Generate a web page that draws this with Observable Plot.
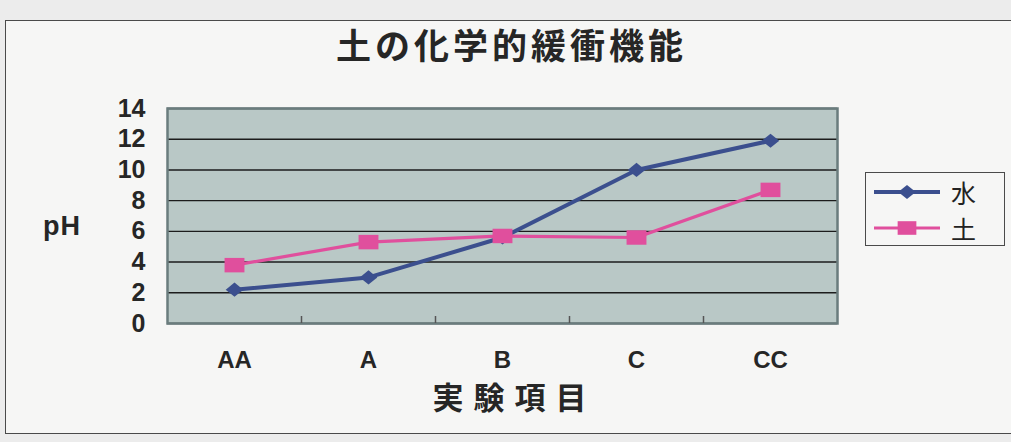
<!DOCTYPE html>
<html>
<head>
<meta charset="utf-8">
<script src="https://cdn.jsdelivr.net/npm/d3@7"></script>
<script src="https://cdn.jsdelivr.net/npm/@observablehq/plot@0.6"></script>
<style>
  html, body { margin: 0; padding: 0; background: #e9e9e9; }
  #wrap { position: relative; width: 1011px; height: 442px; overflow: hidden; background: #ececec; }
  #frame { position: absolute; left: 5px; top: 20px; width: 1020px; height: 414px; border: 1.5px solid #4a4a4a; background: #f6f6f5; box-sizing: border-box; }
  #title { position: absolute; left: 0; top: 24px; width: 1011px; text-align: center; font-family: "Noto Sans CJK JP", sans-serif; font-weight: bold; font-size: 35px; letter-spacing: 4px; color: #262626; line-height: 40px; padding-left: 12px; box-sizing: border-box; }
  #ylabel { position: absolute; left: 43px; top: 211px; font-family: "Liberation Sans", Arial, sans-serif; font-weight: bold; font-size: 27px; letter-spacing: 1px; color: #262626; }
  #xlabel { position: absolute; left: 0; top: 379px; width: 1011px; padding-left: 18px; box-sizing: border-box; text-align: center; font-family: "Noto Sans CJK JP", sans-serif; font-weight: bold; font-size: 31px; letter-spacing: 10px; color: #262626; line-height: 34px; }
  #chart { position: absolute; left: 0; top: 88px; }
  #legend { position: absolute; left: 865px; top: 172px; width: 140px; height: 74px; border: 1.5px solid #4a4a4a; box-sizing: border-box; background: #f6f6f5; }
  .entry { position: absolute; left: 6px; height: 34px; display: flex; align-items: center; }
  .entry span { font-family: "Noto Sans CJK JP", sans-serif; font-size: 25px; color: #222; margin-left: 9px; line-height: 30px; }
</style>
</head>
<body>
<div id="wrap">
  <div id="frame"></div>
  <div id="title"></div>
  <div id="ylabel"></div>
  <div id="chart"></div>
  <div id="xlabel"></div>
  <div id="legend"></div>
</div>
<script>
// ---- data ----
const chartTitle = "土の化学的緩衝機能";
const xTitle = "実験項目";
const yTitle = "pH";
const categories = ["AA", "A", "B", "C", "CC"];
const seriesNames = ["水", "土"];
const water = [2.2, 3.0, 5.6, 10.0, 11.9];
const soil = [3.8, 5.3, 5.7, 5.6, 8.7];
const yTicks = [0, 2, 4, 6, 8, 10, 12, 14];
const seriesColors = ["#3b4f8e", "#e04f9d"];

// ---- derived tables ----
const rowsWater = categories.map((c, i) => ({series: seriesNames[0], i, v: water[i]}));
const rowsSoil = categories.map((c, i) => ({series: seriesNames[1], i, v: soil[i]}));
const indices = categories.map((c, i) => i);
const boundaries = indices.slice(1).map(i => i - 0.5);

// custom marker shapes (scan is slightly wide)
const diamondSym = {draw(ctx, size) { const s = Math.sqrt(size); ctx.moveTo(-0.62 * s, 0); ctx.lineTo(0, -0.5 * s); ctx.lineTo(0.62 * s, 0); ctx.lineTo(0, 0.5 * s); ctx.closePath(); }};
const rectSym = {draw(ctx, size) { const s = Math.sqrt(size); ctx.rect(-0.66 * s, -0.48 * s, 1.32 * s, 0.96 * s); }};

document.getElementById("title").textContent = chartTitle;
document.getElementById("xlabel").textContent = xTitle;
document.getElementById("ylabel").textContent = yTitle;

const chart = Plot.plot({
  width: 1011,
  height: 290,
  marginLeft: 167,
  marginRight: 174,
  marginTop: 20,
  marginBottom: 55,
  style: {background: "transparent", color: "#262626", fontFamily: "'Liberation Sans', Arial, sans-serif", overflow: "visible"},
  x: {domain: [-0.5, categories.length - 0.5]},
  y: {domain: [0, 14]},
  color: {domain: seriesNames, range: seriesColors},
  symbol: {domain: seriesNames, range: [diamondSym, rectSym]},
  marks: [
    Plot.frame({fill: "#b9c8c6", stroke: "none"}),
    Plot.gridY(yTicks, {stroke: "#1c1c1c", strokeOpacity: 1, strokeWidth: 1.4}),
    Plot.frame({stroke: "#6a7c7d", strokeWidth: 2.5}),
    Plot.axisX(boundaries, {tickSize: -7, tickFormat: () => "", stroke: "#555", strokeWidth: 1.5, label: null}),
    Plot.axisX(indices, {tickSize: 0, tickPadding: 27, tickFormat: i => categories[i], fontSize: 24, fontWeight: "bold", label: null}),
    Plot.axisY(yTicks, {tickSize: 0, tickPadding: 22, fontSize: 25, fontWeight: "bold", label: null}),
    Plot.line(rowsWater, {x: "i", y: "v", stroke: "series", strokeWidth: 4}),
    Plot.dot(rowsWater, {x: "i", y: "v", symbol: "series", fill: "series", r: 8}),
    Plot.line(rowsSoil, {x: "i", y: "v", stroke: "series", strokeWidth: 3.2}),
    Plot.dot(rowsSoil, {x: "i", y: "v", symbol: "series", fill: "series", r: 8.5})
  ]
});
document.getElementById("chart").appendChild(chart);

// ---- legend ----
const legend = document.getElementById("legend");
seriesNames.forEach((name, k) => {
  const e = document.createElement("div");
  e.className = "entry";
  e.style.top = (2 + k * 36) + "px";
  const svg = d3.create("svg").attr("width", 70).attr("height", 20);
  svg.append("line").attr("x1", 2).attr("x2", 68).attr("y1", 10).attr("y2", 10)
    .attr("stroke", seriesColors[k]).attr("stroke-width", k === 0 ? 4 : 3.2);
  const sym = k === 0 ? diamondSym : rectSym;
  const p = d3.path();
  sym.draw(p, Math.PI * 64);
  svg.append("path").attr("d", p.toString()).attr("transform", "translate(35,10)").attr("fill", seriesColors[k]);
  e.appendChild(svg.node());
  const t = document.createElement("span");
  t.textContent = name;
  e.appendChild(t);
  legend.appendChild(e);
});
</script>
</body>
</html>
